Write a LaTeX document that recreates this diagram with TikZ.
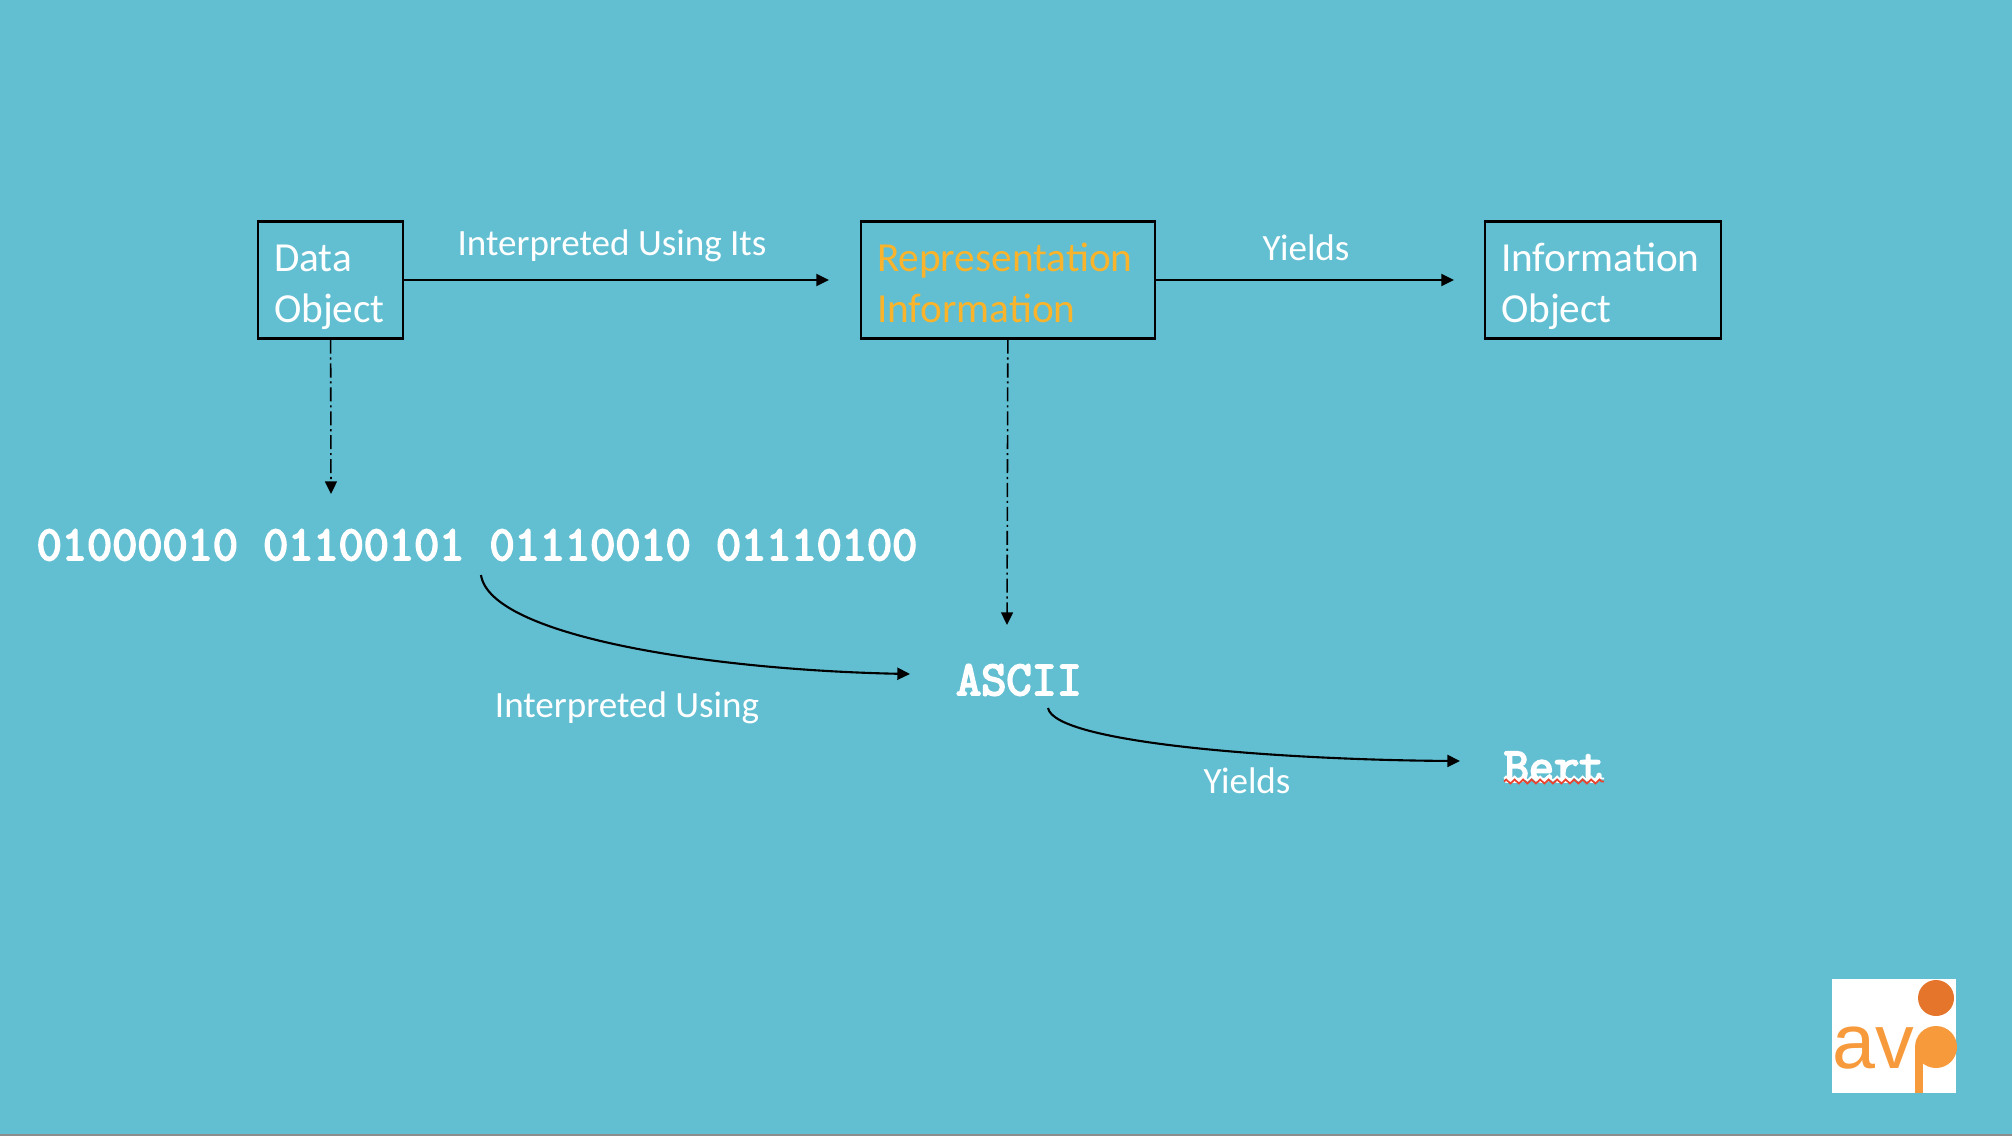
\documentclass[tikz,border=0pt]{standalone}
\usepackage{fontspec}
\setmainfont{Carlito}
\newfontfamily\bytefont{Latin Modern Mono}[FakeBold=4]
\newfontfamily\logofont{Liberation Sans}
\usetikzlibrary{arrows.meta,decorations.pathmorphing}
\definecolor{avpsky}{HTML}{62BFD2}
\definecolor{avpgold}{HTML}{F9B42C}
\definecolor{avporange}{HTML}{F79A3B}
\definecolor{avpdark}{HTML}{E4752B}
\definecolor{avpred}{HTML}{E8432E}
\newcommand{\linetop}{\rule{0pt}{12.5pt}}
\newcommand{\linebot}{\rule[-3pt]{0pt}{3pt}}

\begin{document}
\begin{tikzpicture}[
    box/.style={
        draw=black,
        line width=0.6pt,
        minimum height=1.17cm,
        inner xsep=0.16cm,
        inner ysep=0pt,
        align=left,
        font=\fontsize{11.75}{14.6}\selectfont,
        text=white
    },
    edgetext/.style={
        font=\fontsize{10.55}{12}\selectfont,
        text=white
    },
    bytes/.style={
        font=\bytefont\fontsize{13.9}{15}\selectfont,
        text=white
    },
    flow/.style={
        draw=black,
        line width=0.6pt,
        -{Triangle[length=3.6pt,width=3.4pt]}
    },
    dashflow/.style={
        flow,
        line width=0.45pt,
        dash pattern=on 4pt off 1.1pt on 0.6pt off 1.1pt
    }
]

\useasboundingbox (0,0) rectangle (20.12,11.36);
\fill[avpsky] (0,0) rectangle (20.12,11.36);
\fill[black!45] (0,0) rectangle (20.12,0.02);

% ============================================================
% Top row boxes
% ============================================================

\node[box, text width=1.13cm] (dataobj) at (3.305,8.56)
    {\linetop Data\\Object\linebot};

\node[box, text width=2.62cm, text=avpgold] (repinfo) at (10.08,8.56)
    {\linetop Representation\\Information\linebot};

\node[box, text width=2.04cm] (infoobj) at (16.03,8.56)
    {\linetop Information\\Object\linebot};

% ============================================================
% Bits, format name and result
% ============================================================

\node[bytes] (bits) at (4.77,5.91)
    {01000010 01100101 01110010 01110100};

\node[bytes] (ascii) at (10.19,4.56) {ASCII};

\node[bytes] (bert) at (15.54,3.69) {Bert};

\coordinate (bitsend) at (3.31,6.42);
\coordinate (asciiend) at (10.07,5.11);
\coordinate (curvestart) at (4.81,5.61);
\coordinate (curveend) at (9.10,4.62);
\coordinate (bertstart) at (10.48,4.28);
\coordinate (bertend) at (14.60,3.75);

% ============================================================
% Connectors
% ============================================================

\draw[flow, shorten >=0.31cm] (dataobj) -- (repinfo);
\draw[flow, shorten >=0.30cm] (repinfo) -- (infoobj);

\draw[dashflow] (dataobj) -- (bitsend);
\draw[dashflow] (repinfo) -- (asciiend);

\draw[flow] (curvestart) .. controls (4.90,5.00) and (7.10,4.66) .. (curveend);
\draw[flow] (bertstart) .. controls (10.55,3.92) and (12.90,3.76) .. (bertend);

% ============================================================
% Connector labels
% ============================================================

\node[edgetext] (itsusing) at (6.12,8.90) {Interpreted Using Its};
\node[edgetext] (yieldstop) at (13.06,8.88) {Yields};
\node[edgetext] (asciiusing) at (6.27,4.28) {Interpreted Using};
\node[edgetext] (yieldslow) at (12.47,3.55) {Yields};

% ============================================================
% Spelling squiggle under Bert
% ============================================================

\draw[white, line width=0.5pt, decorate, decoration={zigzag, segment length=0.085cm, amplitude=0.02cm}]
    (15.04,3.575) -- (16.04,3.575);
\draw[avpred, line width=0.5pt, decorate, decoration={zigzag, segment length=0.085cm, amplitude=0.02cm}]
    (15.04,3.545) -- (16.04,3.545);

% ============================================================
% Logo
% ============================================================

\fill[white] (18.32,0.43) rectangle (19.56,1.57);
\fill[avpdark] (19.36,1.38) circle (0.18);
\fill[avporange] (19.36,0.89) circle (0.21);
\fill[avporange] (19.15,0.43) rectangle (19.23,0.89);
\node[font=\logofont\fontsize{22}{22}\selectfont, text=avporange, inner sep=0pt, anchor=base west] (avtext) at (18.32,0.68) {av};

\end{tikzpicture}
\end{document}
